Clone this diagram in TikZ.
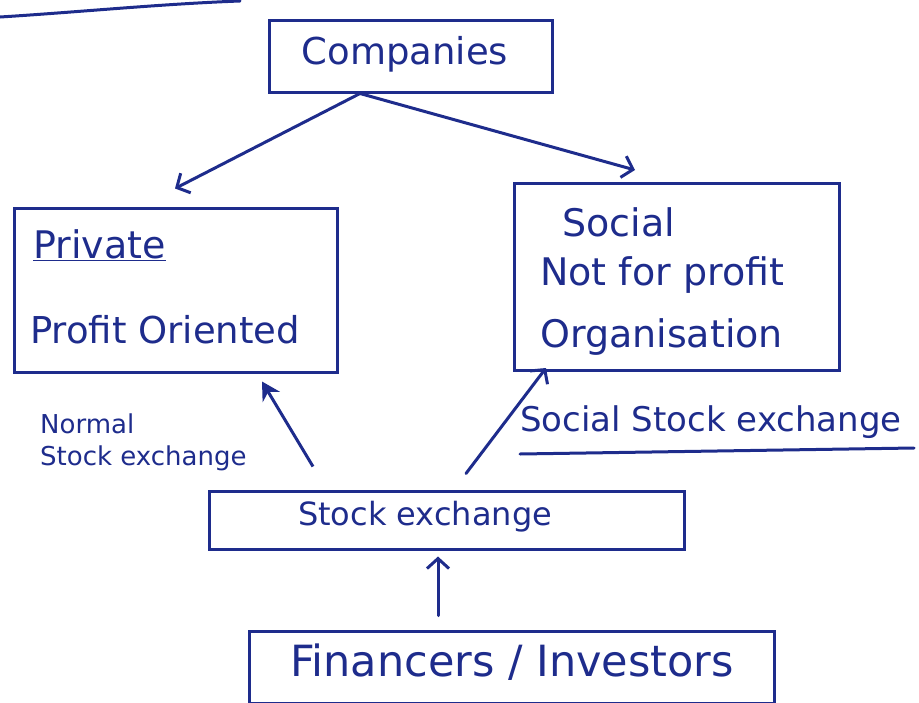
\documentclass[tikz,border=0pt]{standalone}
\usepackage{fontspec}
\setmainfont{DejaVu Sans}
\usetikzlibrary{arrows.meta,calc}
\definecolor{ink}{HTML}{1E2C8C}
\tikzset{
  box/.style={draw=ink, line width=3pt, inner sep=0pt},
  txt/.style={text=ink, inner sep=0pt, anchor=center},
  stroke/.style={draw=ink, line width=3pt, line cap=round},
  conn/.style={draw=ink, line width=3pt, line cap=round, -{Straight Barb[length=10pt,width=22pt,line width=3pt]}},
  fconn/.style={draw=ink, line width=3pt, -{Stealth[length=18pt,width=20pt]}},
}
\begin{document}
\begin{tikzpicture}[x=1pt,y=-1pt]
\useasboundingbox (0,0) rectangle (919,702);
% stray stroke at top left
\draw[stroke] (0,17) .. controls (80,12) and (160,4) .. (240,1);
% boxes
\node[box, minimum width=283pt, minimum height=72pt] (comp) at (411,56) {};
\node[box, minimum width=323pt, minimum height=164pt] (priv) at (176,290) {};
\node[box, minimum width=325pt, minimum height=187pt] (soc) at (677,277) {};
\node[box, minimum width=475pt, minimum height=58pt] (se) at (447,520) {};
\node[box, minimum width=525pt, minimum height=72pt] (fin) at (512,667) {};
% texts
\node[txt, font=\fontsize{37}{44}\selectfont] (tcomp) at (405,54) {Companies};
\node[txt, font=\fontsize{38}{44}\selectfont, anchor=west] (tpriv) at (33,245) {\underline{Private}};
\node[txt, font=\fontsize{37}{44}\selectfont, anchor=west] (tprof) at (30,330) {Profit Oriented};
\node[txt, font=\fontsize{38}{44}\selectfont, anchor=west] (tsoc) at (562,222) {Social};
\node[txt, font=\fontsize{38}{44}\selectfont, anchor=west] (tnfp) at (540,275) {Not for profit};
\node[txt, font=\fontsize{38}{44}\selectfont, anchor=west] (torg) at (540,337) {Organisation};
\node[txt, font=\fontsize{26}{32}\selectfont, align=left, anchor=west] (tnse) at (40,442) {Normal\\Stock exchange};
\node[txt, font=\fontsize{34}{40}\selectfont, anchor=west] (tsse) at (520,422) {Social Stock exchange};
\draw[stroke] (520,454) coordinate (ul1) -- (914,448) coordinate (ul2);
\node[txt, font=\fontsize{32}{38}\selectfont] (tse) at (425,517) {Stock exchange};
\node[txt, font=\fontsize{43}{50}\selectfont] (tfin) at (512,662) {Financers / Investors};
% connectors
\coordinate (c1) at ($(comp.south)+(-51,0)$);
\coordinate (p1) at ($(priv.north)+(-1,-18)$);
\coordinate (s1) at ($(soc.north)+(-42,-12)$);
\draw[conn] (c1) -- (p1);
\draw[conn] (c1) -- (s1);
\coordinate (se1) at ($(se.north west)+(105,-23)$);
\coordinate (pp) at ($(priv.south)+(86,8)$);
\draw[fconn] (se1) -- (pp);
\coordinate (se2) at ($(se.north west)+(258,-16)$);
\coordinate (sp) at ($(soc.south west)+(33,-4)$);
\draw[conn] (se2) -- (sp);
\coordinate (f1) at ($(fin.north west)+(190,-14)$);
\coordinate (sb) at ($(se.south west)+(230,6)$);
\draw[conn] (f1) -- (sb);
\end{tikzpicture}
\end{document}
